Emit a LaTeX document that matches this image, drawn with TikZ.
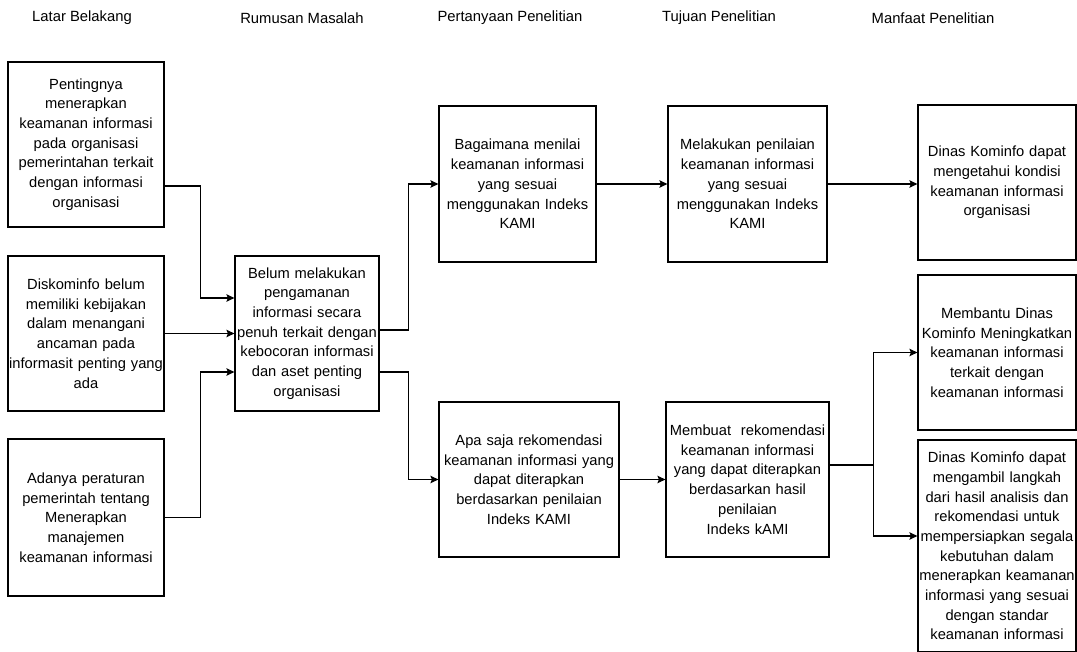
\documentclass[tikz,border=0pt]{standalone}
\usepackage{fontspec}
\setmainfont{Liberation Sans}
\usetikzlibrary{arrows.meta}
\begin{document}
\begin{tikzpicture}[x=1pt,y=-1pt,
  box/.style={draw, line width=1.2pt, align=center, inner xsep=0pt, inner ysep=0pt,
    font={\fontsize{14.7pt}{19.7pt}\selectfont}},
  head/.style={font={\fontsize{14.8pt}{17pt}\selectfont}, inner sep=0pt},
  arr/.style={line width=1.2pt, -{Stealth[length=8pt,width=7.5pt,inset=1.5pt]}},
  con/.style={line width=1.2pt}]
\useasboundingbox (0,0) rectangle (1077,652);
\clip (0,0) rectangle (1077,652);
% headers
\node[head] (h1) at (82,18) {Latar Belakang};
\node[head] (h2) at (302,18) {Rumusan Masalah};
\node[head] (h3) at (510,18) {Pertanyaan Penelitian};
\node[head] (h4) at (719,18) {Tujuan Penelitian};
\node[head] (h5) at (933,18) {Manfaat Penelitian};
% boxes
\node[box, text width=156pt, minimum height=165pt] (L1) at (86,144.5)
  {Pentingnya\\ menerapkan\\ keamanan informasi\\ pada organisasi\\ pemerintahan terkait\\ dengan informasi\\ organisasi};
\node[box, text width=156pt, minimum height=155pt] (L2) at (86,333.5)
  {Diskominfo belum\\ memiliki kebijakan\\ dalam menangani\\ ancaman pada\\ informasit penting yang\\ ada};
\node[box, text width=156pt, minimum height=157pt] (L3) at (86,517.5)
  {Adanya peraturan\\ pemerintah tentang\\ Menerapkan\\ manajemen\\ keamanan informasi};
\node[box, text width=144pt, minimum height=155pt] (R) at (307,333.5)
  {Belum melakukan\\ pengamanan\\ informasi secara\\ penuh terkait dengan\\ kebocoran informasi\\ dan aset penting\\ organisasi};
\node[box, text width=157pt, minimum height=156pt] (Q1) at (517.5,184)
  {Bagaimana menilai\\ keamanan informasi\\ yang sesuai\\ menggunakan Indeks\\ KAMI};
\node[box, text width=180pt, minimum height=155pt] (Q2) at (529,479.5)
  {Apa saja rekomendasi\\ keamanan informasi yang\\ dapat diterapkan\\ berdasarkan penilaian\\ Indeks KAMI};
\node[box, text width=159pt, minimum height=156pt] (T1) at (747.5,184)
  {Melakukan penilaian\\ keamanan informasi\\ yang sesuai\\ menggunakan Indeks\\ KAMI};
\node[box, text width=163pt, minimum height=155pt] (T2) at (747.5,479.5)
  {Membuat\ \ rekomendasi\\ keamanan informasi\\ yang dapat diterapkan\\ berdasarkan hasil\\ penilaian\\ Indeks kAMI};
\node[box, text width=158pt, minimum height=155pt] (M1) at (997,182.5)
  {Dinas Kominfo dapat\\ mengetahui kondisi\\ keamanan informasi\\ organisasi};
\node[box, text width=158pt, minimum height=155pt] (M2) at (997,352.5)
  {Membantu Dinas\\ Kominfo Meningkatkan\\ keamanan informasi\\ terkait dengan\\ keamanan informasi};
\node[box, text width=158pt, minimum height=212pt] (M3) at (997,546)
  {Dinas Kominfo dapat\\ mengambil langkah\\ dari hasil analisis dan\\ rekomendasi untuk\\ mempersiapkan segala\\ kebutuhan dalam\\ menerapkan keamanan\\ informasi yang sesuai\\ dengan standar\\ keamanan informasi};
% connectors
\draw[arr] ([yshift=-41.5pt]L1.east) -- ++(36,0) |- ([yshift=35.5pt]R.west);
\draw[arr] (L2.east) -- (R.west);
\draw[arr] (L3.east) -- ++(36,0) |- ([yshift=-38.5pt]R.west);
\draw[arr] ([yshift=3.5pt]R.east) -- ++(29,0) |- (Q1.west);
\draw[arr] ([yshift=-38.5pt]R.east) -- ++(29,0) |- (Q2.west);
\draw[arr] (Q1.east) -- (T1.west);
\draw[arr] (Q2.east) -- (T2.west);
\draw[arr] (T1.east) -- (T1.east -| M1.west);
\draw[arr] ([yshift=14.5pt]T2.east) -- ++(44,0) |- (M2.west);
\draw[arr] ([yshift=14.5pt]T2.east) -- ++(44,0) |- ([yshift=10pt]M3.west);
\end{tikzpicture}
\end{document}
